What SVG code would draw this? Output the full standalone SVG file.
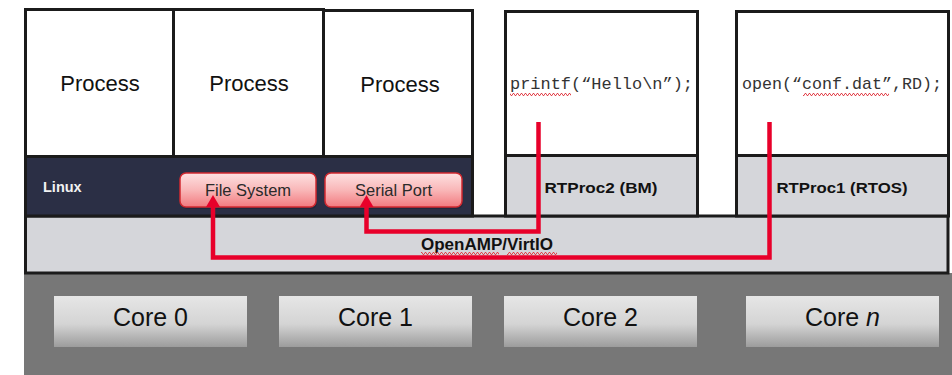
<svg xmlns="http://www.w3.org/2000/svg" width="952" height="375" viewBox="0 0 952 375">
  <style>
    .box { stroke: #1b1b1b; stroke-width: 3; }
    .white { fill: #ffffff; }
    .lightband { fill: #d5d6da; }
    .proc { font-family: "Liberation Sans", Arial, sans-serif; font-size: 22px; fill: #111; text-anchor: middle; }
    .bold { font-family: "Liberation Sans", Arial, sans-serif; font-weight: bold; fill: #111; text-anchor: middle; }
    .code { font-family: "Liberation Mono", "Courier New", monospace; font-size: 17px; fill: #333; }
    .pill { fill: url(#pillGrad); stroke: #d22a30; stroke-width: 1.5; }
    .pilltext { font-family: "Liberation Sans", Arial, sans-serif; font-size: 16.5px; fill: #2a2a2a; text-anchor: middle; }
    .core { fill: url(#coreGrad); }
    .coretext { font-family: "Liberation Sans", Arial, sans-serif; font-size: 25px; fill: #111; text-anchor: middle; }
    .wire { fill: none; stroke: #e8002a; stroke-width: 4.5; stroke-linejoin: miter; }
    .squig { fill: url(#squiggle); }
  </style>
  <defs>
    <linearGradient id="pillGrad" x1="0" y1="0" x2="0" y2="1">
      <stop offset="0" stop-color="#fde1e1"/>
      <stop offset="0.5" stop-color="#f9b7b8"/>
      <stop offset="1" stop-color="#f27a7f"/>
    </linearGradient>
    <linearGradient id="coreGrad" x1="0" y1="0" x2="0" y2="1">
      <stop offset="0" stop-color="#e6e6e6"/>
      <stop offset="0.55" stop-color="#d4d4d4"/>
      <stop offset="1" stop-color="#9c9c9c"/>
    </linearGradient>
    <pattern id="squiggle" patternUnits="userSpaceOnUse" x="0" y="0" width="4" height="3">
      <path d="M0,2.5 L1,0.5 L2,0.5 L3,2.5 L4,2.5" fill="none" stroke="#e0323c" stroke-width="0.9"/>
    </pattern>
    <marker id="arrow" markerUnits="userSpaceOnUse" viewBox="0 0 12 14" markerWidth="12" markerHeight="14" refX="4" refY="7" orient="auto">
      <path d="M0,0 L12,7 L0,14 z" fill="#e8002a"/>
    </marker>
  </defs>

  <g id="hardware">
    <rect x="24" y="273" width="928" height="102" fill="#777777"/>
  </g>

  <g id="openamp">
    <rect class="box lightband" x="25.5" y="216" width="922.5" height="57"/>
    <text class="bold" x="487" y="250" font-size="16" textLength="132" lengthAdjust="spacingAndGlyphs">OpenAMP/VirtIO</text>
    <rect class="squig" x="421" y="252" width="78" height="3"/>
    <rect class="squig" x="507" y="252" width="50" height="3"/>
  </g>

  <g id="process1">
    <rect class="box white" x="25.5" y="9.5" width="148" height="147"/>
    <text class="proc" x="100" y="91">Process</text>
  </g>
  <g id="process2">
    <rect class="box white" x="173.5" y="9.5" width="150" height="147"/>
    <text class="proc" x="249" y="91">Process</text>
  </g>
  <g id="process3">
    <rect class="box white" x="323.5" y="10.5" width="149" height="146"/>
    <text class="proc" x="400" y="92">Process</text>
  </g>

  <g id="linux">
    <rect class="box" x="25.5" y="156.5" width="447" height="59.5" fill="#2b2f45"/>
    <text x="43" y="192" font-family="Liberation Sans, Arial, sans-serif" font-weight="bold" font-size="14.5" fill="#f2f2f2">Linux</text>
  </g>

  <g id="filesystem">
    <rect x="181" y="175" width="136" height="34" rx="6" fill="#22263a" opacity="0.8"/>
    <rect class="pill" x="180" y="173" width="136" height="34" rx="6"/>
    <text class="pilltext" x="248" y="196">File System</text>
  </g>

  <g id="serialport">
    <rect x="326" y="175" width="137" height="34" rx="6" fill="#22263a" opacity="0.8"/>
    <rect class="pill" x="325" y="173" width="137" height="34" rx="6"/>
    <text class="pilltext" x="393.5" y="196">Serial Port</text>
  </g>

  <g id="rtproc2">
    <rect class="box white" x="505.5" y="11.5" width="192" height="144"/>
    <rect class="box lightband" x="505.5" y="155.5" width="192" height="60.5"/>
    <text class="code" x="510" y="89" textLength="183" lengthAdjust="spacingAndGlyphs">printf(“Hello\n”);</text>
    <rect class="squig" x="510" y="93" width="61" height="3"/>
    <text class="bold" x="601" y="193" font-size="15.5" textLength="113" lengthAdjust="spacingAndGlyphs">RTProc2 (BM)</text>
  </g>

  <g id="rtproc1">
    <rect class="box white" x="736.5" y="11.5" width="212" height="144"/>
    <rect class="box lightband" x="736.5" y="155.5" width="212" height="60.5"/>
    <text class="code" x="742" y="89" textLength="200" lengthAdjust="spacingAndGlyphs">open(“conf.dat”,RD);</text>
    <rect class="squig" x="803" y="93" width="86" height="3"/>
    <text class="bold" x="842" y="193" font-size="15.5" textLength="131" lengthAdjust="spacingAndGlyphs">RTProc1 (RTOS)</text>
  </g>

  <g id="core0">
    <rect class="core" x="54" y="296" width="193" height="51"/>
    <text class="coretext" x="150.5" y="326">Core 0</text>
  </g>
  <g id="core1">
    <rect class="core" x="279" y="296" width="193" height="51"/>
    <text class="coretext" x="375.5" y="326">Core 1</text>
  </g>
  <g id="core2">
    <rect class="core" x="504" y="296" width="193" height="51"/>
    <text class="coretext" x="600.5" y="326">Core 2</text>
  </g>
  <g id="coren">
    <rect class="core" x="746" y="296" width="193" height="51"/>
    <text class="coretext" x="842.5" y="326">Core <tspan font-style="italic">n</tspan></text>
  </g>

  <g id="connectors">
    <path class="wire" d="M769.5,122 V257.5 H213 V203" marker-end="url(#arrow)"/>
    <path class="wire" d="M538.5,122 V231.5 H366.5 V203" marker-end="url(#arrow)"/>
  </g>
</svg>
